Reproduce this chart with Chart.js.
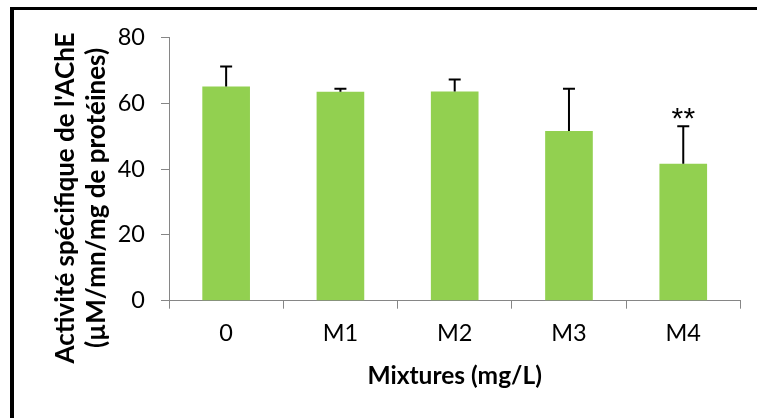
<!DOCTYPE html>
<html>
<head>
<meta charset="utf-8">
<script src="https://cdn.jsdelivr.net/npm/chart.js@4"></script>
<style>
    html, body { margin: 0; padding: 0; background: #fff; }
    #wrap { position: relative; width: 757px; height: 418px; overflow: hidden; }
    #frame { position: absolute; left: 10px; top: 7px; width: 800px; height: 500px;
             border-left: 4px solid #000; border-top: 3px solid #000; box-sizing: border-box; }
    #chart { position: absolute; left: 0; top: 0; }
</style>
</head>
<body>
<div id="wrap">
    <div id="frame"></div>
    <canvas id="chart" width="757" height="418"></canvas>
</div>
<script>
// Data
const categories = ['0', 'M1', 'M2', 'M3', 'M4'];
const meanActivity = [65.1, 63.5, 63.6, 51.6, 41.6];
const errorUp = [6.1, 0.9, 3.6, 12.8, 11.4];
const significance = ['', '', '', '', '**'];
const yTicks = [0, 20, 40, 60, 80];
const yTitle = ["Activité spécifique de l'AChE", '(µM/mn/mg de protéines)'];

const AXIS_GREY = '#868686';
const FONT = 'Lato';

// error bars (upper only) + significance stars
const errorBarPlugin = {
    id: 'errorBars',
    afterDatasetsDraw(chart) {
        const ctx = chart.ctx;
        const x = chart.scales.x;
        const y = chart.scales.y;
        ctx.save();
        ctx.strokeStyle = '#000';
        ctx.lineWidth = 2;
        meanActivity.forEach((v, i) => {
            const px = x.getPixelForValue(i);
            const yTop = y.getPixelForValue(v + errorUp[i]);
            const yBase = y.getPixelForValue(v);
            ctx.beginPath();
            ctx.moveTo(px, yBase);
            ctx.lineTo(px, yTop);
            ctx.moveTo(px - 6, yTop);
            ctx.lineTo(px + 6, yTop);
            ctx.stroke();
            if (significance[i]) {
                // stars drawn one by one, a bit apart
                ctx.fillStyle = '#000';
                ctx.font = '30px "Liberation Sans"';
                ctx.textAlign = 'center';
                ctx.textBaseline = 'alphabetic';
                const stars = significance[i].split('');
                stars.forEach((s, k) => {
                    const off = (k - (stars.length - 1) / 2) * 12;
                    ctx.fillText(s, px + off, yTop + 2);
                });
            }
        });
        ctx.restore();
    }
};

// y title sits lower than the axis centre in the original, so draw it by hand
const yTitlePlugin = {
    id: 'yTitle',
    afterDraw(chart) {
        const ctx = chart.ctx;
        ctx.save();
        ctx.translate(0, 198);
        ctx.rotate(-Math.PI / 2);
        ctx.fillStyle = '#000';
        ctx.font = 'bold 26px ' + FONT;
        ctx.textAlign = 'center';
        ctx.textBaseline = 'middle';
        ctx.fillText(yTitle[0], 0, 66);
        ctx.fillText(yTitle[1], 0, 97);
        ctx.restore();
    }
};

const ctx = document.getElementById('chart').getContext('2d');
new Chart(ctx, {
    type: 'bar',
    data: {
        labels: categories,
        datasets: [{
            data: meanActivity,
            backgroundColor: '#92D050',
            borderWidth: 0,
            barPercentage: 0.417,
            categoryPercentage: 1
        }]
    },
    options: {
        responsive: false,
        animation: false,
        layout: {
            padding: { left: 14, top: 37.5, right: 16.6, bottom: 0 }
        },
        plugins: {
            legend: { display: false },
            tooltip: { enabled: false }
        },
        scales: {
            x: {
                grid: {
                    drawOnChartArea: false,
                    drawTicks: true,
                    tickLength: 8,
                    color: AXIS_GREY,
                    offset: true
                },
                border: { color: AXIS_GREY, width: 1 },
                ticks: {
                    color: '#000',
                    font: { family: FONT, size: 23.5 },
                    padding: 11
                },
                title: {
                    display: true,
                    text: 'Mixtures (mg/L)',
                    color: '#000',
                    font: { family: FONT, size: 24.5, weight: 'bold' },
                    padding: { top: 0, bottom: 27.5 }
                },
                afterFit(scale) {
                    scale.height = 117.3;
                }
            },
            y: {
                min: 0,
                max: 80,
                afterBuildTicks(scale) {
                    scale.ticks = yTicks.map(v => ({ value: v }));
                },
                grid: {
                    drawOnChartArea: false,
                    drawTicks: true,
                    tickLength: 8,
                    color: AXIS_GREY
                },
                border: { color: AXIS_GREY, width: 1 },
                ticks: {
                    color: '#000',
                    font: { family: FONT, size: 23.5 },
                    padding: 16
                },
                title: { display: false },
                afterFit(scale) {
                    scale.width = 155;
                }
            }
        }
    },
    plugins: [errorBarPlugin, yTitlePlugin]
});
</script>
</body>
</html>
